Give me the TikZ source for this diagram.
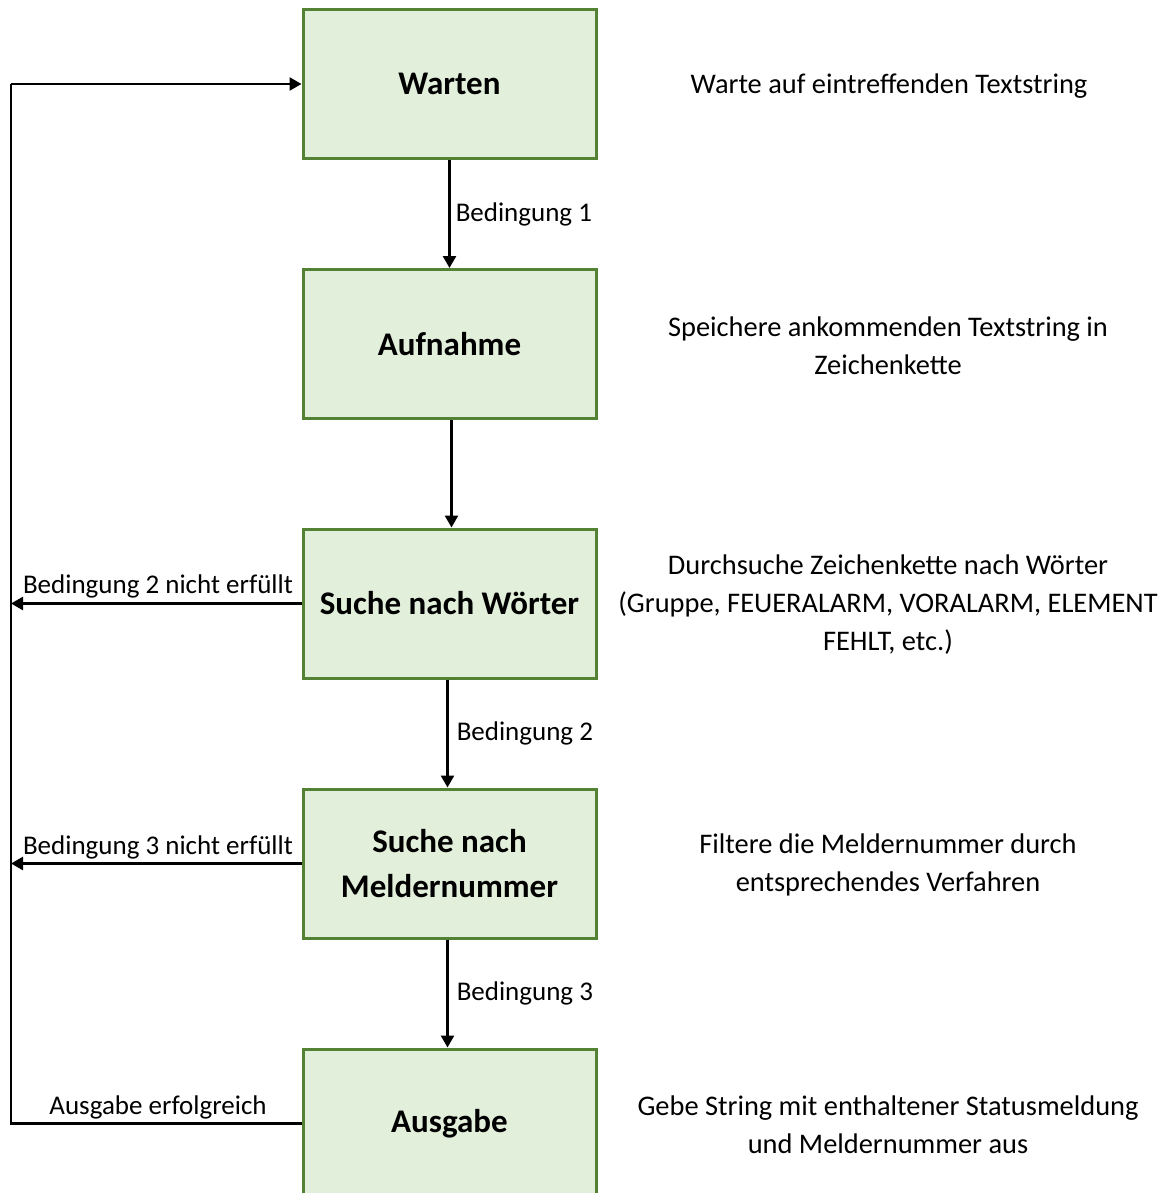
\documentclass[tikz,border=0pt]{standalone}
\usepackage{fontspec}
\setmainfont{Carlito}
\usetikzlibrary{arrows.meta}
\definecolor{boxfill}{HTML}{E2EFDA}
\definecolor{boxline}{HTML}{548235}
\begin{document}
\begin{tikzpicture}[x=1pt,y=-1pt,
  state/.style={draw=boxline, fill=boxfill, line width=3pt,
    minimum width=293pt, minimum height=149pt, inner sep=0pt,
    align=center, font=\fontsize{33}{45}\selectfont\bfseries},
  desc/.style={align=center, font=\fontsize{28.4}{38}\selectfont, inner sep=0pt},
  lbl/.style={font=\fontsize{27}{30}\selectfont, inner sep=0pt},
  flow/.style={line width=2.5pt, -{Triangle[length=12pt,width=13pt]}},
  plain/.style={line width=2.5pt}]
\useasboundingbox (0,0) rectangle (1168,1193);
\clip (0,0) rectangle (1168,1193);

% states
\node[state] (warten)   at (449.5,84)    {Warten};
\node[state] (aufnahme) at (449.5,344)   {Aufnahme};
\node[state] (woerter)  at (449.5,603.5) {Suche nach Wörter};
\node[state] (melder)   at (449.5,863.5) {Suche nach\\Meldernummer};
\node[state] (ausgabe)  at (449.5,1123.5) {Ausgabe};

% descriptions
\node[desc] (d1) at (889,86)  {Warte auf eintreffenden Textstring};
\node[desc] (d2) at (888,346) {Speichere ankommenden Textstring in\\Zeichenkette};
\node[desc] (d3) at (888,605) {Durchsuche Zeichenkette nach Wörter\\(Gruppe, FEUERALARM, VORALARM, ELEMENT\\FEHLT, etc.)};
\node[desc] (d4) at (888,865) {Filtere die Meldernummer durch\\entsprechendes Verfahren};
\node[desc] (d5) at (888,1125) {Gebe String mit enthaltener Statusmeldung\\und Meldernummer aus};

% downward transitions
\draw[flow] (warten.south)  -- node[lbl, right=5pt, pos=0.5] {Bedingung 1} (aufnahme.north);
\draw[flow] ([xshift=2pt]aufnahme.south) -- ([xshift=2pt]woerter.north);
\draw[flow] ([xshift=-2pt]woerter.south) -- node[lbl, right=8pt, pos=0.5] {Bedingung 2} ([xshift=-2pt]melder.north);
\draw[flow] ([xshift=-2pt]melder.south)  -- node[lbl, right=8pt, pos=0.5] {Bedingung 3} ([xshift=-2pt]ausgabe.north);

% return path on the left
\coordinate (lt) at (11,84);
\coordinate (lb) at (11,1123.5);
\coordinate (l3) at (11,603.5);
\coordinate (l4) at (11,863.5);
\draw[plain] (ausgabe.west) -- (lb) -- (lt);
\draw[flow] (lt) -- (warten.west);
\draw[flow] (woerter.west) -- (l3);
\draw[flow] (melder.west) -- (l4);

% return labels
\node[lbl, anchor=base] (r3) at (158,593) {Bedingung 2 nicht erfüllt};
\node[lbl, anchor=base] (r4) at (158,854) {Bedingung 3 nicht erfüllt};
\node[lbl, anchor=base] (r5) at (158,1114) {Ausgabe erfolgreich};
\end{tikzpicture}
\end{document}
